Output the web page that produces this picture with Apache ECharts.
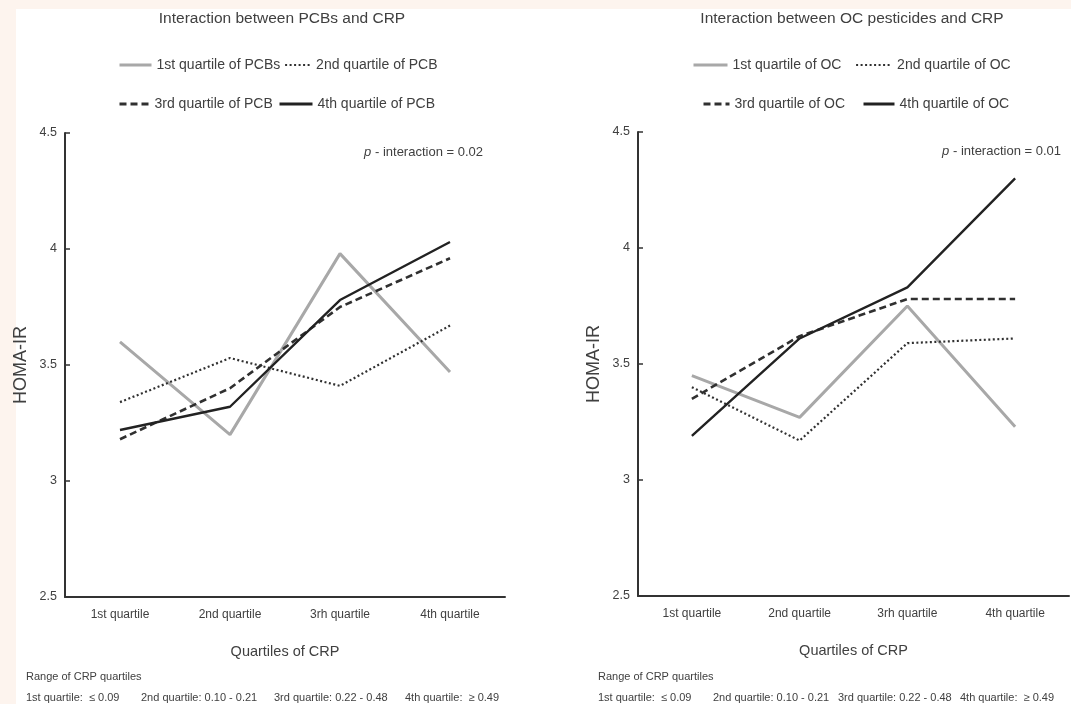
<!DOCTYPE html>
<html>
<head>
<meta charset="utf-8">
<script src="https://cdn.jsdelivr.net/npm/echarts@6/dist/echarts.min.js"></script>
<style>
  html, body { margin: 0; padding: 0; background: #ffffff; }
  #wrap { position: relative; width: 1071px; height: 704px; overflow: hidden; }
  .strip { position: absolute; background: #fdf4ee; }
  #main { position: absolute; left: 0; top: 0; width: 1071px; height: 704px; }
</style>
</head>
<body>
<div id="wrap">
  <div class="strip" style="left:0;top:0;width:1071px;height:9px;"></div>
  <div class="strip" style="left:0;top:0;width:16px;height:704px;"></div>
  <div id="main"></div>
</div>
<script>
// CRP quartile categories (x axis)
const categories = ['1st quartile', '2nd quartile', '3rh quartile', '4th quartile'];

// HOMA-IR by CRP quartile, per PCB quartile
const pcbNames = ['1st quartile of PCBs', '2nd quartile of PCB', '3rd quartile of PCB', '4th quartile of PCB'];
const pcbQ1 = [3.60, 3.20, 3.98, 3.47];
const pcbQ2 = [3.34, 3.53, 3.41, 3.67];
const pcbQ3 = [3.18, 3.40, 3.75, 3.96];
const pcbQ4 = [3.22, 3.32, 3.78, 4.03];

// HOMA-IR by CRP quartile, per OC pesticide quartile
const ocNames = ['1st quartile of OC', '2nd quartile of OC', '3rd quartile of OC', '4th quartile of OC'];
const ocQ1 = [3.45, 3.27, 3.75, 3.23];
const ocQ2 = [3.40, 3.17, 3.59, 3.61];
const ocQ3 = [3.35, 3.62, 3.78, 3.78];
const ocQ4 = [3.19, 3.61, 3.83, 4.30];

// y axis range and step
const yMin = 2.5, yMax = 4.5, yStep = 0.5;

const panelTitles = ['Interaction between PCBs and CRP', 'Interaction between OC pesticides and CRP'];
const pValues = ['0.02', '0.01'];
const rangeHeading = 'Range of CRP quartiles';
const rangeLabels = ['1st quartile:  \u2264 0.09', '2nd quartile: 0.10 - 0.21', '3rd quartile: 0.22 - 0.48', '4th quartile:  \u2265 0.49'];

const SANS = "'Liberation Sans', Arial, sans-serif";
const TEXT = '#404040';

// line styles shared by both panels: light grey solid, dotted, dashed, dark solid
const styles = [
  { color: '#a8a8a8', width: 3, type: 'solid' },
  { color: '#303030', width: 2.2, type: [2, 2.5] },
  { color: '#303030', width: 2.6, type: [7, 4] },
  { color: '#222222', width: 2.4, type: 'solid' }
];

const grids = [
  { left: 65, top: 133, width: 440, height: 464 },
  { left: 638, top: 132, width: 431, height: 464 }
];

function xAxis(i) {
  return {
    type: 'category', gridIndex: i, data: categories, boundaryGap: true,
    name: 'Quartiles of CRP', nameLocation: 'middle', nameGap: 47,
    nameTextStyle: { fontFamily: SANS, fontSize: 14.5, color: TEXT },
    axisLine: { lineStyle: { color: '#333', width: 2 } },
    axisTick: { inside: true, length: 5, lineStyle: { color: '#333', width: 1.5 } },
    axisLabel: { fontFamily: SANS, fontSize: 12, color: TEXT, margin: 12 },
    splitLine: { show: false }
  };
}
function yAxis(i) {
  return {
    type: 'value', gridIndex: i, min: yMin, max: yMax, interval: yStep,
    name: 'HOMA-IR', nameLocation: 'middle', nameGap: 35, nameRotate: 90,
    nameTextStyle: { fontFamily: SANS, fontSize: 18, color: TEXT },
    axisLine: { show: true, lineStyle: { color: '#333', width: 2 } },
    axisTick: { show: true, inside: true, length: 5, lineStyle: { color: '#333', width: 1.5 } },
    axisLabel: { fontFamily: SANS, fontSize: 12.5, color: TEXT, margin: 8 },
    splitLine: { show: false }
  };
}

function makeSeries(names, sets, gi) {
  return sets.map((d, k) => ({
    name: names[k], type: 'line', xAxisIndex: gi, yAxisIndex: gi, data: d,
    symbol: 'none', silent: true,
    lineStyle: { color: styles[k].color, width: styles[k].width, type: styles[k].type, cap: 'butt' },
    itemStyle: { color: styles[k].color }
  }));
}

// one legend entry per component so each sample sits where it belongs
const legendSpots = [
  { name: pcbNames[0], left: 118, row: 0, w: 32, k: 0 },
  { name: pcbNames[1], left: 284, row: 0, w: 26, k: 1 },
  { name: pcbNames[2], left: 118, row: 1, w: 30, k: 2 },
  { name: pcbNames[3], left: 278, row: 1, w: 33, k: 3 },
  { name: ocNames[0], left: 692, row: 0, w: 34, k: 0 },
  { name: ocNames[1], left: 855, row: 0, w: 36, k: 1 },
  { name: ocNames[2], left: 702, row: 1, w: 26, k: 2 },
  { name: ocNames[3], left: 862, row: 1, w: 31, k: 3 }
];
const rowTops = [58, 97];
const legends = legendSpots.map(s => ({
  data: [s.name], left: s.left, top: rowTops[s.row], padding: 0,
  itemWidth: s.w, itemHeight: 16, selectedMode: false,
  itemStyle: { opacity: 0 },
  lineStyle: { width: s.k === 1 ? 2.2 : 3 },
  textStyle: { fontFamily: SANS, fontSize: 14, color: TEXT }
}));

const panelCenters = [282, 852];
const graphics = [];
panelTitles.forEach((t, i) => {
  graphics.push({
    type: 'text', x: panelCenters[i], y: 19,
    style: { text: t, fontFamily: SANS, fontSize: 15.5, fill: TEXT, align: 'center', verticalAlign: 'middle' }
  });
});
[[483, 152], [1061, 151]].forEach((p, i) => {
  graphics.push({
    type: 'text', x: p[0], y: p[1],
    style: {
      text: '{i|p} - interaction = ' + pValues[i],
      fontFamily: SANS, fontSize: 13, fill: TEXT, align: 'right', verticalAlign: 'middle',
      rich: { i: { fontFamily: SANS, fontSize: 13, fontStyle: 'italic', fill: TEXT } }
    }
  });
});
const noteX = [[26, 141, 274, 405], [598, 713, 838, 960]];
noteX.forEach(xs => {
  graphics.push({
    type: 'text', x: xs[0], y: 677,
    style: { text: rangeHeading, fontFamily: SANS, fontSize: 11, fill: TEXT, verticalAlign: 'middle' }
  });
  xs.forEach((x, k) => {
    graphics.push({
      type: 'text', x: x, y: 698,
      style: { text: rangeLabels[k], fontFamily: SANS, fontSize: 11, fill: TEXT, verticalAlign: 'middle' }
    });
  });
});

const chart = echarts.init(document.getElementById('main'), null, { renderer: 'canvas' });
chart.setOption({
  backgroundColor: 'transparent',
  animation: false,
  grid: grids,
  xAxis: [xAxis(0), xAxis(1)],
  yAxis: [yAxis(0), yAxis(1)],
  legend: legends,
  series: makeSeries(pcbNames, [pcbQ1, pcbQ2, pcbQ3, pcbQ4], 0)
    .concat(makeSeries(ocNames, [ocQ1, ocQ2, ocQ3, ocQ4], 1)),
  graphic: graphics
});
</script>
</body>
</html>
